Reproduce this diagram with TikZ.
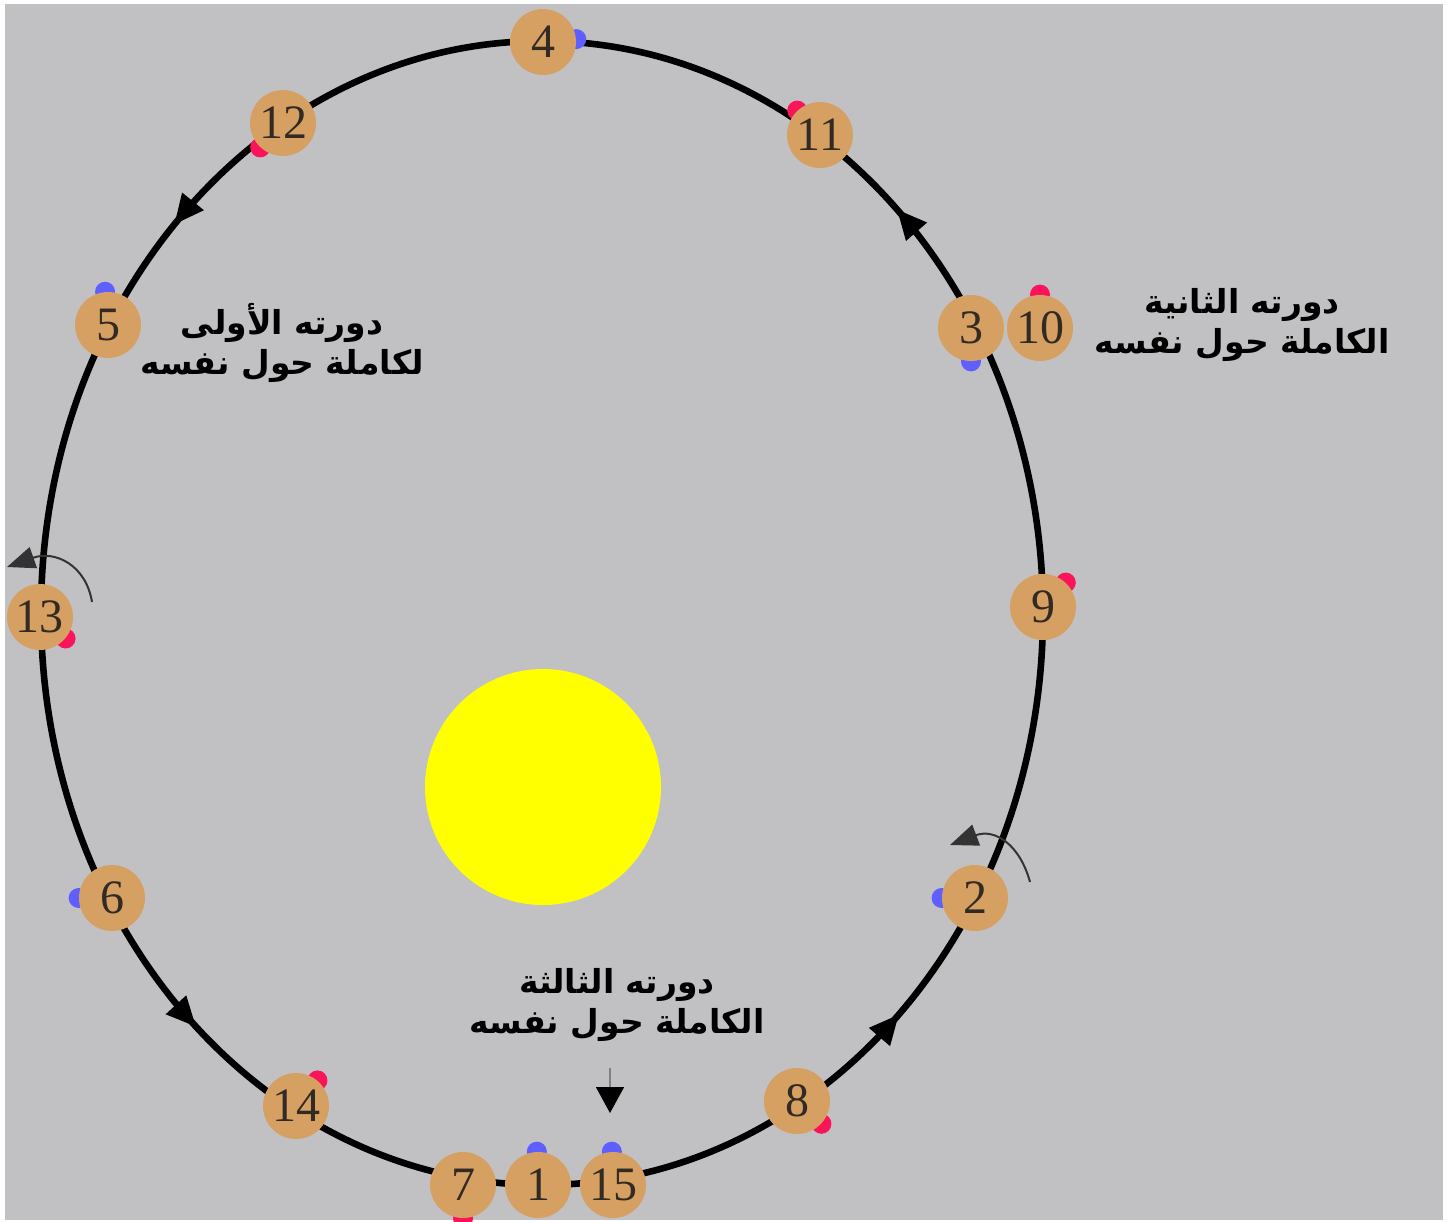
\documentclass[tikz,border=0pt]{standalone}
\usepackage{fontspec}
\usetikzlibrary{decorations.markings,arrows.meta}
\TeXXeTstate=1
\newfontfamily\arabicfont[Script=Arabic]{DejaVu Sans}
\newfontfamily\numfont{Liberation Serif}
\definecolor{bg}{RGB}{193,193,196}
\definecolor{planetc}{RGB}{214,160,98}
\definecolor{dotblue}{RGB}{95,95,255}
\definecolor{dotred}{RGB}{250,20,90}
\definecolor{sunc}{RGB}{255,255,0}
\definecolor{numcol}{RGB}{50,42,35}
\pgfdeclarelayer{back}
\pgfdeclarelayer{dots}
\pgfsetlayers{back,dots,main}
\begin{document}
\begin{tikzpicture}[x=0.5pt,y=-0.5pt,
  planet/.style={circle,fill=planetc,minimum size=33pt,inner sep=0pt,
    font=\numfont\fontsize{24}{24}\selectfont,text=numcol},
  orbitline/.style={line width=3.3pt,black},
  lab/.style={align=center,text=black,font=\arabicfont\bfseries\fontsize{16.5}{20}\selectfont},
  rotarrow/.style={line width=1pt,black!80,-{Triangle[length=14pt,width=11pt]}},
  sunball/.style={circle,fill=sunc,minimum size=118pt,inner sep=0pt}
]
\useasboundingbox (0,0) rectangle (1453,1222);
\begin{pgfonlayer}{back}
\fill[white] (0,0) rectangle (1453,1222);
\fill[bg] (5,4) rectangle (1443,1220);
\draw[orbitline, postaction={decorate}, decoration={markings,
  mark=at position 0.129 with {\arrowreversed{Triangle[length=15pt,width=13pt]}},
  mark=at position 0.366 with {\arrowreversed{Triangle[length=15pt,width=13pt]}},
  mark=at position 0.624 with {\arrowreversed{Triangle[length=15pt,width=13pt]}},
  mark=at position 0.870 with {\arrowreversed{Triangle[length=15pt,width=13pt]}}}]
  (542,613) ellipse [x radius=501, y radius=572];
\node[sunball] (sun) at (543,787) {};
\node[lab] (l1) at (282,343) {\beginR دورته الأولى\endR\\\beginR لكاملة حول نفسه\endR};
\node[lab] (l2) at (1242,325) {\beginR دورته الثانية\endR\\\beginR الكاملة حول نفسه\endR};
\node[lab] (l3) at (617,1005) {\beginR دورته الثالثة\endR\\\beginR الكاملة حول نفسه\endR};
\end{pgfonlayer}
\foreach \n/\x/\y in {4/543/42, 12/283/123, 11/820/135, 5/108/325, 3/971/328,
  10/1040/328, 13/40/617, 9/1043/607, 6/112/898, 2/975/898, 14/296/1106,
  8/797/1101, 7/463/1185, 1/538/1185, 15/613/1185}
  \node[planet] (p\n) at (\x,\y) {\n};
\begin{pgfonlayer}{dots}
\foreach \p/\a/\c in {4/5/dotblue, 12/227/dotred, 11/133/dotred, 5/95/dotblue,
  3/270/dotblue, 10/90/dotred, 13/320/dotred, 9/47/dotred, 6/180/dotblue,
  2/180/dotblue, 14/50/dotred, 8/317/dotred, 7/270/dotred, 1/92/dotblue, 15/92/dotblue}
  \fill[\c] (p\p.\a) circle[radius=10];
\end{pgfonlayer}
\coordinate (r13s) at (92,602);
\coordinate (r13e) at (7,567);
\draw[rotarrow] (r13s) .. controls (86,565) and (55,550) .. (r13e);
\coordinate (r2s) at (1030,882);
\coordinate (r2e) at (950,845);
\draw[rotarrow] (r2s) .. controls (1020,845) and (995,828) .. (r2e);
\coordinate (ds) at (610,1068);
\coordinate (de) at (610,1113);
\draw[line width=0.8pt,gray,-{Triangle[length=13pt,width=14pt,black]}] (ds) -- (de);
\end{tikzpicture}
\end{document}
